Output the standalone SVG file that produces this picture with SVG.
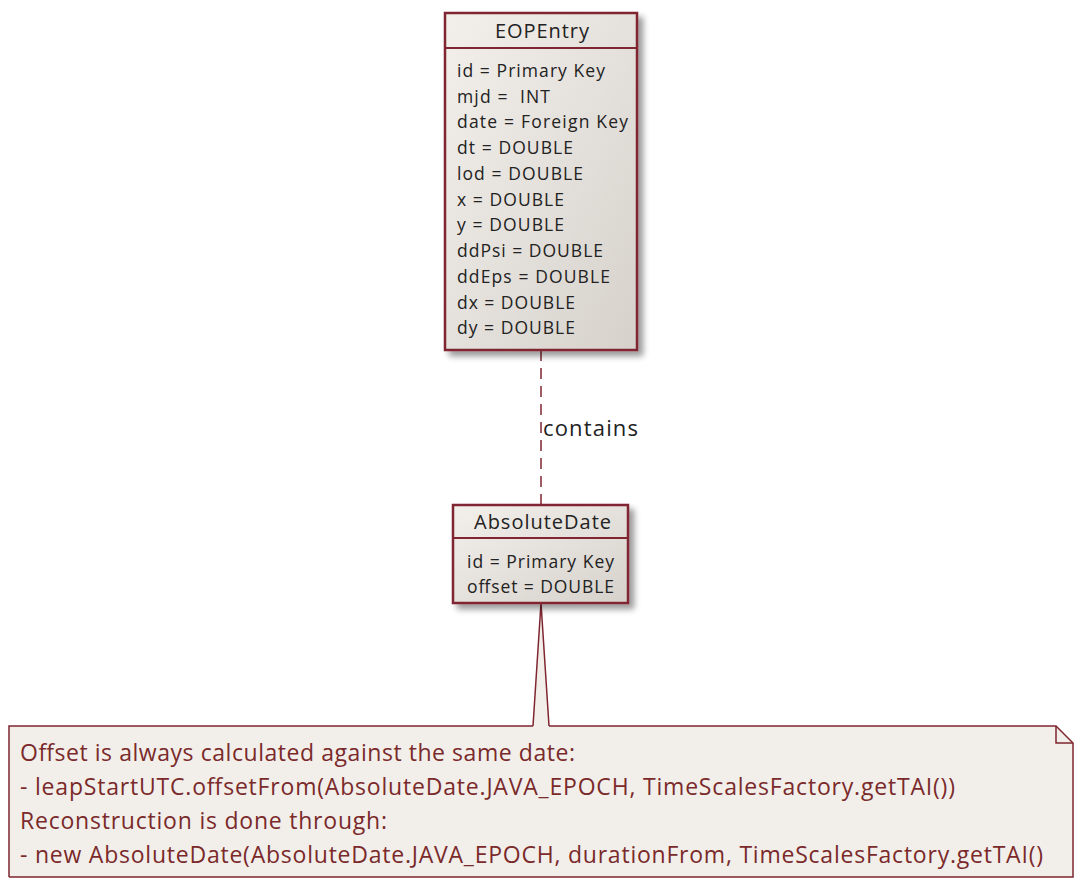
<svg xmlns="http://www.w3.org/2000/svg" width="1075" height="879" viewBox="0 0 1075 879">
<defs>
<linearGradient id="g" x1="0" y1="0" x2="1" y2="1">
<stop offset="0" stop-color="#f3f0ec"/>
<stop offset="1" stop-color="#d6d1cb"/>
</linearGradient>
<filter id="sh" x="-10%" y="-10%" width="130%" height="130%">
<feGaussianBlur in="SourceAlpha" stdDeviation="3"/>
<feOffset dx="5" dy="5"/>
<feComponentTransfer><feFuncA type="linear" slope="0.4"/></feComponentTransfer>
<feMerge><feMergeNode/><feMergeNode in="SourceGraphic"/></feMerge>
</filter>
</defs>
<style>
.box{fill:url(#g);stroke:#7f2630;stroke-width:2.5}
.sep{stroke:#7f2630;stroke-width:2}
.t{font-family:"Open Sans","Noto Sans",sans-serif;fill:#222;white-space:pre}
.title{font-size:20px}
.attr{font-size:17.5px}
.lbl{font-family:"Open Sans","Noto Sans",sans-serif;font-size:22px;fill:#222}
.note{font-family:"Open Sans","Noto Sans",sans-serif;font-size:23px;fill:#7a2a2a}
.con{stroke:#7f2630;stroke-width:1.5;fill:none}
</style>
<g id="connectors">
<line class="con" x1="541" y1="350" x2="541" y2="505" stroke-dasharray="11,7"/>
<text class="lbl" x="543" y="436" textLength="95" lengthAdjust="spacing">contains</text>
<path d="M533,726 L541,603 L549,726" fill="#f2efea" stroke="#7f2630" stroke-width="1.5"/>
</g>
<g id="EOPEntry">
<rect class="box" x="445" y="13" width="192" height="337" filter="url(#sh)"/>
<line class="sep" x1="445" y1="48" x2="637" y2="48"/>
<text class="t title" x="495" y="38" textLength="94" lengthAdjust="spacing">EOPEntry</text>
<text class="t attr" x="457" y="77" textLength="148" lengthAdjust="spacing">id = Primary Key</text>
<text class="t attr" x="457" y="103" textLength="93" lengthAdjust="spacing">mjd =  INT</text>
<text class="t attr" x="457" y="128" textLength="171" lengthAdjust="spacing">date = Foreign Key</text>
<text class="t attr" x="457" y="154" textLength="116" lengthAdjust="spacing">dt = DOUBLE</text>
<text class="t attr" x="457" y="180" textLength="126" lengthAdjust="spacing">lod = DOUBLE</text>
<text class="t attr" x="457" y="206" textLength="107" lengthAdjust="spacing">x = DOUBLE</text>
<text class="t attr" x="457" y="231" textLength="107" lengthAdjust="spacing">y = DOUBLE</text>
<text class="t attr" x="457" y="257" textLength="146" lengthAdjust="spacing">ddPsi = DOUBLE</text>
<text class="t attr" x="457" y="283" textLength="153" lengthAdjust="spacing">ddEps = DOUBLE</text>
<text class="t attr" x="457" y="309" textLength="118" lengthAdjust="spacing">dx = DOUBLE</text>
<text class="t attr" x="457" y="334" textLength="118" lengthAdjust="spacing">dy = DOUBLE</text>
</g>
<g id="AbsoluteDate">
<rect class="box" x="453" y="505" width="175" height="98" filter="url(#sh)"/>
<line class="sep" x1="453" y1="538" x2="628" y2="538"/>
<text class="t title" x="474" y="529" textLength="137" lengthAdjust="spacing">AbsoluteDate</text>
<text class="t attr" x="467" y="568" textLength="147" lengthAdjust="spacing">id = Primary Key</text>
<text class="t attr" x="467" y="593" textLength="147" lengthAdjust="spacing">offset = DOUBLE</text>
</g>
<g id="note">
<path d="M9,726 L1056,726 L1073,743 L1073,877 L9,877 Z" fill="#f2efea" stroke="none"/>
<path d="M9,877 L9,726 L533,726 M549,726 L1056,726 L1073,743 L1073,877 L9,877" fill="none" stroke="#7f2630" stroke-width="1.5"/>
<path d="M1056,726 L1056,743 L1073,743" fill="none" stroke="#7f2630" stroke-width="1.5"/>
<text class="note" x="20" y="761" textLength="555" lengthAdjust="spacing">Offset is always calculated against the same date:</text>
<text class="note" x="20" y="795" textLength="935" lengthAdjust="spacing">- leapStartUTC.offsetFrom(AbsoluteDate.JAVA_EPOCH, TimeScalesFactory.getTAI())</text>
<text class="note" x="20" y="829" textLength="367" lengthAdjust="spacing">Reconstruction is done through:</text>
<text class="note" x="20" y="863" textLength="1023" lengthAdjust="spacing">- new AbsoluteDate(AbsoluteDate.JAVA_EPOCH, durationFrom, TimeScalesFactory.getTAI()</text>
</g>
</svg>
